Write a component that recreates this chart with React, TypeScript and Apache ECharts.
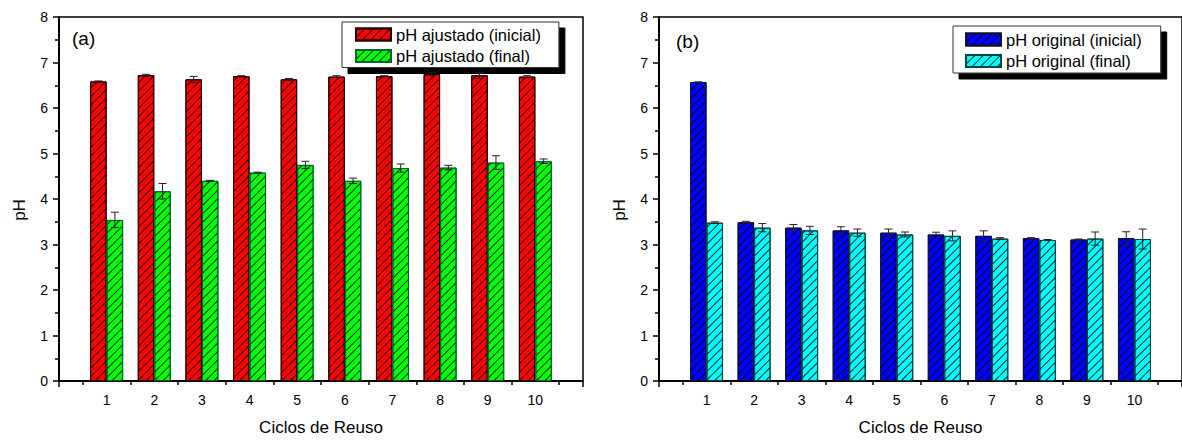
import React, { useEffect, useRef } from "react";
import * as echarts from "echarts";

// Reuse cycles on the x axis
const cycles = [1, 2, 3, 4, 5, 6, 7, 8, 9, 10];
// Minor tick positions sit between the cycles
const minorTicks = [0.5, 1.5, 2.5, 3.5, 4.5, 5.5, 6.5, 7.5, 8.5, 9.5, 10.5];

// (a) adjusted pH
const ajustadoInicial = [6.585, 6.72, 6.63, 6.7, 6.63, 6.69, 6.7, 6.75, 6.72, 6.69];
const ajustadoInicialErr = [0.01, 0.02, 0.065, 0.01, 0.02, 0.02, 0.01, 0.035, 0.065, 0.02];
const ajustadoFinal = [3.54, 4.17, 4.4, 4.58, 4.75, 4.4, 4.68, 4.69, 4.8, 4.83];
const ajustadoFinalErr = [0.17, 0.17, 0.01, 0.01, 0.08, 0.06, 0.09, 0.05, 0.15, 0.05];

// (b) original pH
const originalInicial = [6.57, 3.49, 3.37, 3.31, 3.26, 3.22, 3.19, 3.14, 3.11, 3.14];
const originalInicialErr = [0.0, 0.02, 0.07, 0.08, 0.08, 0.05, 0.11, 0.01, 0.01, 0.14];
const originalFinal = [3.48, 3.37, 3.31, 3.26, 3.22, 3.19, 3.13, 3.1, 3.13, 3.12];
const originalFinalErr = [0.02, 0.09, 0.09, 0.08, 0.055, 0.11, 0.02, 0.01, 0.145, 0.22];

const FONT = "Arial, 'Liberation Sans', Helvetica, sans-serif";
const BAR_W = 16.5;

// Diagonal "/" hatching drawn over each bar fill
const hatch = () => ({
  symbol: "rect",
  symbolSize: 1,
  dashArrayX: [1, 0],
  dashArrayY: [1, 4.5],
  rotation: -Math.PI / 4,
  color: "rgba(0,0,0,0.85)",
});

const xAxesFor = (gridIndex: number) => [
  {
    type: "value",
    gridIndex,
    position: "bottom",
    min: 0,
    max: 11,
    interval: 1,
    axisLine: { show: true, onZero: false, lineStyle: { color: "#000", width: 2 } },
    axisTick: { show: true, customValues: minorTicks, length: 4, lineStyle: { color: "#000", width: 1.5 } },
    axisLabel: { customValues: cycles, fontSize: 14, color: "#000", margin: 12, fontFamily: FONT },
    splitLine: { show: false },
    name: "Ciclos de Reuso",
    nameLocation: "middle",
    nameGap: 38,
    nameTextStyle: { fontSize: 17, color: "#000", fontFamily: FONT },
  },
  {
    type: "value",
    gridIndex,
    position: "bottom",
    min: 0,
    max: 11,
    interval: 11,
    axisLine: { show: false },
    axisTick: { show: true, length: 6, lineStyle: { color: "#000", width: 1.5 } },
    axisLabel: { show: false },
    splitLine: { show: false },
  },
];

const yAxisFor = (gridIndex: number) => ({
  type: "value",
  gridIndex,
  min: 0,
  max: 8,
  interval: 1,
  axisLine: { show: true, onZero: false, lineStyle: { color: "#000", width: 2 } },
  axisTick: { show: true, length: 6, lineStyle: { color: "#000", width: 1.5 } },
  minorTick: { show: true, splitNumber: 2, length: 4, lineStyle: { color: "#000", width: 1.5 } },
  splitLine: { show: false },
  minorSplitLine: { show: false },
  axisLabel: { fontSize: 14, color: "#000", margin: 11, fontFamily: FONT },
  name: "pH",
  nameLocation: "middle",
  nameGap: 31,
  nameTextStyle: { fontSize: 17, color: "#000", fontFamily: FONT, padding: [0, 22, 0, 0] },
});

const barSeries = (
  name: string,
  axis: number,
  values: number[],
  color: string,
  border: string
) => ({
  type: "bar",
  name,
  xAxisIndex: axis * 2,
  yAxisIndex: axis,
  data: cycles.map((c, i) => [c, values[i]]),
  barWidth: BAR_W,
  barGap: "0%",
  itemStyle: { color, borderColor: border, borderWidth: 1, decal: hatch() },
  z: 2,
});

const errorSeries = (axis: number, values: number[], errs: number[], side: number) => ({
  type: "custom",
  xAxisIndex: axis * 2,
  yAxisIndex: axis,
  data: cycles.map((c, i) => [c, values[i], errs[i]]),
  z: 5,
  renderItem: (_params: any, api: any) => {
    const x = api.value(0);
    const v = api.value(1);
    const e = api.value(2);
    const hi = api.coord([x, v + e]);
    const lo = api.coord([x, v - e]);
    const cx = hi[0] + (side * BAR_W) / 2;
    const half = 4;
    const st = { stroke: "#222", lineWidth: 1 };
    return {
      type: "group",
      children: [
        { type: "line", shape: { x1: cx, y1: hi[1], x2: cx, y2: lo[1] }, style: st },
        { type: "line", shape: { x1: cx - half, y1: hi[1], x2: cx + half, y2: hi[1] }, style: st },
        { type: "line", shape: { x1: cx - half, y1: lo[1], x2: cx + half, y2: lo[1] }, style: st },
      ],
    };
  },
});

const legendFor = (names: string[], left: number, top: number, padding: number[]) => ({
  data: names,
  orient: "vertical",
  left,
  top,
  icon: "rect",
  itemWidth: 35,
  itemHeight: 12,
  itemGap: 4.5,
  padding,
  backgroundColor: "#fff",
  borderColor: "#333",
  borderWidth: 1,
  shadowColor: "#000",
  shadowBlur: 0,
  shadowOffsetX: 6,
  shadowOffsetY: 6,
  textStyle: { fontSize: 16.5, lineHeight: 16, color: "#000", fontFamily: FONT },
});

export default function App() {
  const ref = useRef<HTMLDivElement>(null);

  useEffect(() => {
    if (!ref.current) return;
    const chart = echarts.init(ref.current, null, { renderer: "svg" });
    const gridBase = { top: 17, bottom: 57.7, show: true, borderColor: "#000", borderWidth: 1.5 };
    chart.setOption({
      animation: false,
      textStyle: { fontFamily: FONT },
      grid: [
        { ...gridBase, left: 59, right: 599 },
        { ...gridBase, left: 659, right: -1 },
      ],
      xAxis: [...xAxesFor(0), ...xAxesFor(1)],
      yAxis: [yAxisFor(0), yAxisFor(1)],
      legend: [
        legendFor(["pH ajustado (inicial)", "pH ajustado (final)"], 342, 22, [4, 18, 3, 13]),
        legendFor(["pH original (inicial)", "pH original (final)"], 953, 26, [5, 19, 3.5, 12]),
      ],
      graphic: [
        { type: "text", left: 72, top: 29, style: { text: "(a)", fontSize: 19, fill: "#000", fontFamily: FONT } },
        { type: "text", left: 676, top: 32, style: { text: "(b)", fontSize: 19, fill: "#000", fontFamily: FONT } },
      ],
      series: [
        barSeries("pH ajustado (inicial)", 0, ajustadoInicial, "#ff0000", "#200"),
        barSeries("pH ajustado (final)", 0, ajustadoFinal, "#00ff00", "#063"),
        errorSeries(0, ajustadoInicial, ajustadoInicialErr, -1),
        errorSeries(0, ajustadoFinal, ajustadoFinalErr, 1),
        barSeries("pH original (inicial)", 1, originalInicial, "#0000ff", "#113"),
        barSeries("pH original (final)", 1, originalFinal, "#00ffff", "#044"),
        errorSeries(1, originalInicial, originalInicialErr, -1),
        errorSeries(1, originalFinal, originalFinalErr, 1),
      ],
    });
    return () => chart.dispose();
  }, []);

  return (
    <div
      ref={ref}
      style={{ position: "absolute", left: 0, top: 0, width: 1182, height: 441, background: "#fff" }}
    />
  );
}
